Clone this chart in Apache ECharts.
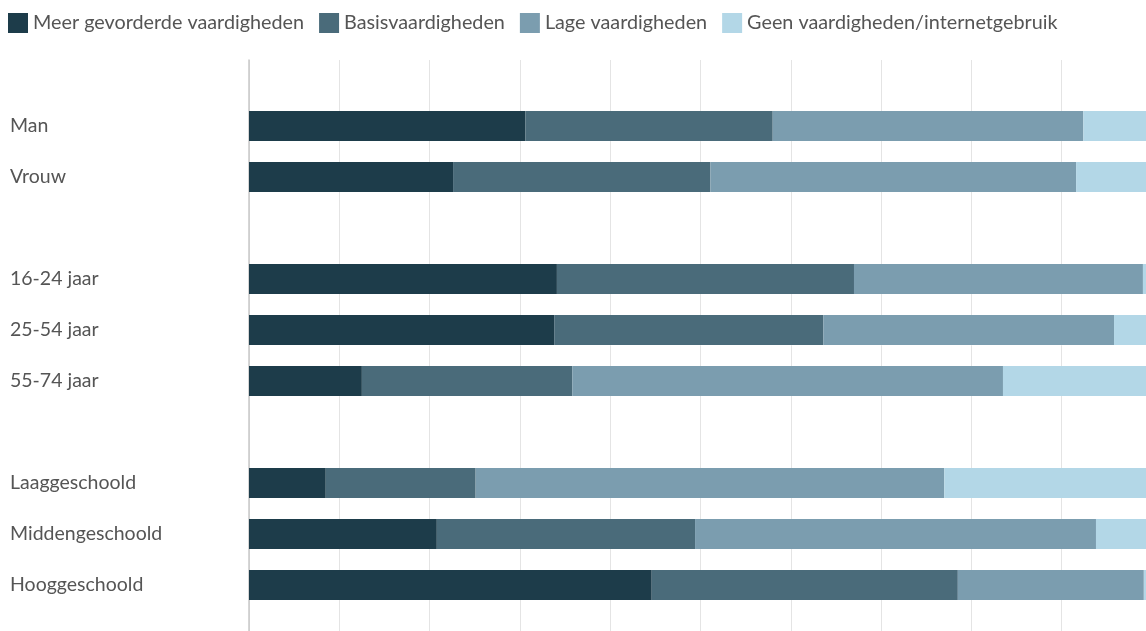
<!DOCTYPE html>
<html>
<head>
<meta charset="utf-8">
<script src="https://cdn.jsdelivr.net/npm/echarts@6/dist/echarts.min.js"></script>
<style>
  html, body { margin: 0; padding: 0; background: #fff; }
  #chart { width: 1146px; height: 631px; }
</style>
</head>
<body>
<div id="chart"></div>
<script>
// categorieen (lege strings = witruimte tussen groepen)
var categories = ['Man', 'Vrouw', '', '16-24 jaar', '25-54 jaar', '55-74 jaar', '', 'Laaggeschoold', 'Middengeschoold', 'Hooggeschoold'];
var seriesNames = ['Meer gevorderde vaardigheden', 'Basisvaardigheden', 'Lage vaardigheden', 'Geen vaardigheden/internetgebruik'];
// percentages per groep
var meer  = [30.6, 22.6, null, 34.1, 33.8, 12.5, null, 8.5, 20.8, 44.6];
var basis = [27.4, 28.5, null, 32.9, 29.8, 23.3, null, 16.6, 28.6, 33.9];
var lage  = [34.4, 40.5, null, 32.0, 32.2, 47.7, null, 51.9, 44.4, 20.6];
var geen  = [7.6, 8.4, null, 1.0, 4.2, 16.5, null, 23.0, 6.2, 0.9];
var colors = ['#1d3c4a', '#4a6b7a', '#7b9daf', '#b3d7e7'];

// de as loopt eigenlijk tot 100, maar de rechterrand valt net buiten beeld
var xMax = 99.34;

var chart = echarts.init(document.getElementById('chart'));
var values = [meer, basis, lage, geen];

chart.setOption({
    animation: false,
    color: colors,
    textStyle: { fontFamily: 'Lato' },
    legend: {
        left: 3,
        top: 8,
        itemWidth: 20,
        itemHeight: 20,
        itemGap: 15,
        icon: 'rect',
        textStyle: { fontSize: 19.8, color: '#555', fontFamily: 'Lato' },
        data: seriesNames
    },
    grid: [
        // achtergrond: rasterlijnen en aslijn
        { left: 249, right: 0, top: 60, bottom: -20 },
        // de balken
        { left: 249, right: 0, top: 100.5, height: 510 }
    ],
    xAxis: [
        {
            gridIndex: 0, type: 'value', min: 0, max: xMax, interval: 10,
            axisLine: { show: false }, axisTick: { show: false }, axisLabel: { show: false },
            splitLine: { showMaxLine: false, lineStyle: { color: '#e4e4e4', width: 1 } }
        },
        {
            gridIndex: 1, type: 'value', min: 0, max: xMax, show: false
        }
    ],
    yAxis: [
        {
            gridIndex: 0, type: 'value', min: 0, max: 1,
            axisLine: { show: true, lineStyle: { color: '#c8c8c8', width: 1.5 } },
            axisTick: { show: false }, axisLabel: { show: false }, splitLine: { show: false }
        },
        {
            gridIndex: 1, type: 'category', inverse: true, data: categories,
            axisLine: { show: false }, axisTick: { show: false }, splitLine: { show: false },
            axisLabel: { align: 'left', margin: 239, fontSize: 19.5, color: '#555', fontFamily: 'Lato' }
        }
    ],
    series: seriesNames.map(function (name, i) {
        return {
            name: name,
            type: 'bar',
            stack: 'totaal',
            xAxisIndex: 1,
            yAxisIndex: 1,
            barWidth: 30,
            data: values[i],
            itemStyle: { color: colors[i] }
        };
    })
});
</script>
</body>
</html>
